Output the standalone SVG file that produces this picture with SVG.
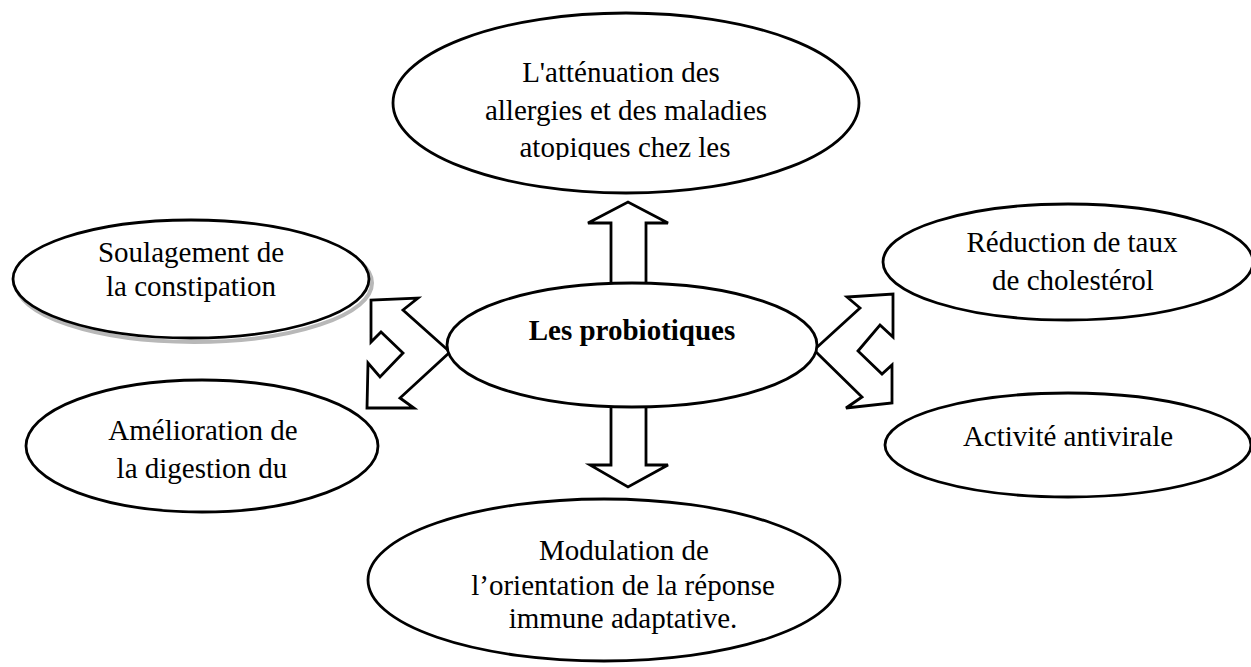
<svg xmlns="http://www.w3.org/2000/svg" width="1251" height="667" viewBox="0 0 1251 667">
<defs>
<style>
.node{fill:#fff;stroke:#000;stroke-width:2.8}
.arr{fill:#fff;stroke:#000;stroke-width:2.8;stroke-linejoin:miter}
.t{font-family:'Liberation Serif', serif;font-size:29px;fill:#000;text-anchor:middle}
.b{font-weight:bold}
</style>
<clipPath id="clipTop"><rect x="380" y="0" width="500" height="160"/></clipPath>
</defs>
<rect width="1251" height="667" fill="#fff"/>
<g id="connectors">
<polygon class="arr" points="611,292 611,223 588,223 628,202 668,223 646,223 646,292"/>
<polygon class="arr" points="611,398 611,465 590,465 628,487 668,465 646,465 646,398"/>
<polygon class="arr" points="450,352 403,310 418,298 371,300 371,342 381,332 403,353 380,377 368,363 367,408 414,408 400,398"/>
<polygon class="arr" points="814,350 860,308 847,297 893,294 893,337 880,325 858,351 882,374 892,365 892,403 846,408 862,397"/>
</g>
<g id="node-center">
<ellipse class="node" cx="632" cy="345" rx="185" ry="62"/>
<text class="t b" font-family="Liberation Serif, serif" x="632" y="340">Les probiotiques</text>
</g>
<g id="node-top">
<ellipse class="node" cx="626" cy="103" rx="233" ry="90"/>
<g clip-path="url(#clipTop)">
<text class="t" font-family="Liberation Serif, serif" x="621" y="82">L'atténuation des</text>
<text class="t" font-family="Liberation Serif, serif" x="626" y="120">allergies et des maladies</text>
<text class="t" font-family="Liberation Serif, serif" x="625" y="157">atopiques chez les</text>
</g>
</g>
<g id="node-soulagement">
<ellipse cx="194" cy="283" rx="178" ry="59" fill="none" stroke="#b8b8b8" stroke-width="4"/>
<ellipse class="node" cx="191" cy="279" rx="178" ry="59"/>
<text class="t" font-family="Liberation Serif, serif" x="191" y="262">Soulagement de</text>
<text class="t" font-family="Liberation Serif, serif" x="191" y="296">la constipation</text>
</g>
<g id="node-amelioration">
<ellipse class="node" cx="202" cy="446" rx="176" ry="66"/>
<text class="t" font-family="Liberation Serif, serif" x="203" y="440">Amélioration de</text>
<text class="t" font-family="Liberation Serif, serif" x="202" y="478">la digestion du</text>
</g>
<g id="node-reduction">
<ellipse class="node" cx="1068" cy="262" rx="185" ry="58"/>
<text class="t" font-family="Liberation Serif, serif" x="1072" y="252">Réduction de taux</text>
<text class="t" font-family="Liberation Serif, serif" x="1073" y="290">de cholestérol</text>
</g>
<g id="node-antivirale">
<ellipse class="node" cx="1068" cy="445" rx="183" ry="52"/>
<text class="t" font-family="Liberation Serif, serif" x="1068" y="446">Activité antivirale</text>
</g>
<g id="node-modulation">
<ellipse class="node" cx="604" cy="580" rx="236" ry="81"/>
<text class="t" font-family="Liberation Serif, serif" x="624" y="560">Modulation de</text>
<text class="t" font-family="Liberation Serif, serif" x="623" y="595">l’orientation de la réponse</text>
<text class="t" font-family="Liberation Serif, serif" x="623" y="628">immune adaptative.</text>
</g>
</svg>
